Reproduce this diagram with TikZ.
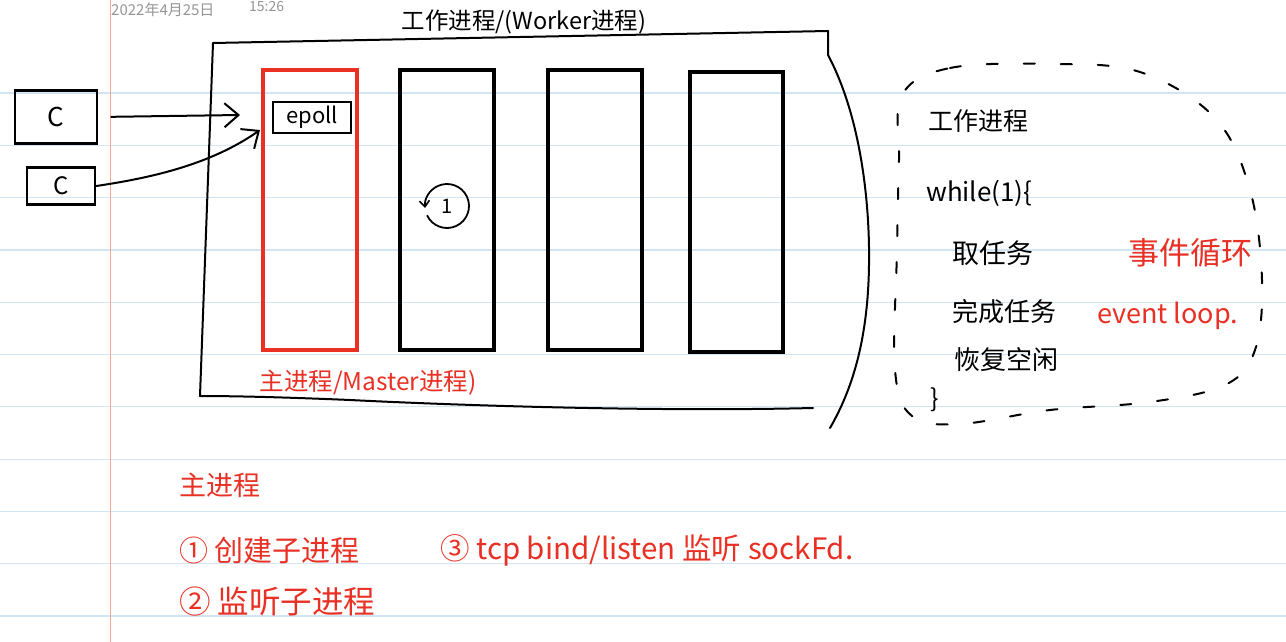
\documentclass[tikz,border=0pt]{standalone}
\usepackage{fontspec}
\setmainfont{Noto Sans CJK SC}
\usetikzlibrary{arrows.meta}
\definecolor{inkred}{RGB}{232,48,36}
\definecolor{ruleblue}{RGB}{210,229,245}
\definecolor{marginred}{RGB}{245,165,150}
\definecolor{dategray}{RGB}{150,150,150}
\newcommand\hsz[1]{\fontsize{#1pt}{#1pt}\selectfont}
\begin{document}
\begin{tikzpicture}[x=1pt,y=-1pt,
  txt/.style={inner sep=0pt, anchor=center},
  blacktxt/.style={txt, text=black},
  redtxt/.style={txt, text=inkred},
  procbox/.style={draw=black, line width=4pt, inner sep=0pt, minimum width=94pt, minimum height=280pt},
  masterbox/.style={procbox, draw=inkred},
  cbox/.style={draw=black, line width=2.6pt, inner sep=0pt},
  frame/.style={draw=black, line width=2pt, line join=round, line cap=round},
  link/.style={draw=black, line width=2pt, line cap=round, -{Straight Barb[length=14pt,width=24pt,line width=2pt]}},
  dashblob/.style={draw=black, line width=2pt, dash pattern=on 11pt off 26pt, line cap=round}
]
\fill[white] (0,0) rectangle (1286,642);
\useasboundingbox (0,0) rectangle (1286,642);
% notebook ruling
\foreach \k in {0,...,10} \draw[ruleblue, line width=1.2pt] (0,{93+52.3*\k}) -- (1286,{93+52.3*\k});
\draw[marginred, line width=1pt] (110,0) -- (110,642);

% date / time
\node[txt, text=dategray, anchor=west] (date) at (111,10) {\hsz{15}2022年4月25日};
\node[txt, text=dategray, anchor=west] (time) at (249,7) {\hsz{14}15:26};

% outer worker frame
\path[frame] (813,408) .. controls (650,412) and (450,405) .. (350,400)
  .. controls (280,397) and (230,396) .. (200,396)
  -- (213,43) -- (828,31) -- (828,55)
  .. controls (860,115) and (870,200) .. (869,265)
  .. controls (868,340) and (852,390) .. (830,428);
\node[blacktxt] (workerlbl) at (524,22) {\hsz{23.5}工作进程/(Worker进程)};

% process boxes
\node[masterbox] (master) at (310,210) {};
\node[procbox] (w1) at (446.5,210) {};
\node[procbox] (w2) at (594.5,210) {};
\node[procbox, minimum width=93pt] (w3) at (736.5,212) {};
\node[redtxt] (masterlbl) at (368,383) {\hsz{24.5}主进程/Master进程)};

% epoll
\node[draw=black, line width=2pt, minimum width=78pt, minimum height=31pt, inner sep=0pt] (epoll) at (312,117.5) {\hsz{22}epoll};

% loop mark in worker
\node[blacktxt] (loop) at (447,206) {\hsz{20}1};
\draw[line width=1.8pt, -{Straight Barb[length=6pt,width=10pt,line width=1.6pt]}]
  (loop.center) ++(155:22) arc[start angle=155, end angle=-185, radius=22];

% clients
\node[cbox, minimum width=82pt, minimum height=53pt] (c1) at (56,117) {\hsz{26}C};
\node[cbox, minimum width=68pt, minimum height=37pt] (c2) at (61,186) {\hsz{24}C};
\coordinate (a1) at (240,115);
\coordinate (a2) at (260,130);
\draw[link, shorten <=13pt] (c1.east) -- (a1);
\draw[link] (c2.east) .. controls (150,178) and (210,165) .. (a2);

% event loop panel
\draw[dashblob] plot[smooth cycle, tension=0.6] coordinates {
  (902,95) (950,68) (1050,64) (1140,72) (1215,118) (1250,190) (1262,280)
  (1255,350) (1225,385) (1150,402) (1050,410) (960,424) (912,416) (895,370) (897,250) (899,160)};
\node[blacktxt, anchor=west] (wp) at (928,121) {\hsz{25}工作进程};
\node[blacktxt, anchor=west] (wl) at (926,193) {\hsz{26}while(1)\{};
\node[blacktxt, anchor=west] (t1) at (952,253) {\hsz{27}取任务};
\node[blacktxt, anchor=west] (t2) at (952,312) {\hsz{26}完成任务};
\node[blacktxt, anchor=west] (t3) at (954,360) {\hsz{26}恢复空闲};
\node[blacktxt, anchor=west] (rb) at (930,400) {\hsz{25}\}};
\node[redtxt, anchor=west] (evcn) at (1128,253) {\hsz{31}事件循环};
\node[redtxt, anchor=west] (even) at (1097,316) {\hsz{27}event loop.};

% master notes
\node[redtxt, anchor=west] (mn) at (179,485) {\hsz{27}主进程};
\node[redtxt, anchor=west] (n1) at (179,550) {\hsz{29}① 创建子进程};
\node[redtxt, anchor=west] (n2) at (179,602) {\hsz{31.5}② 监听子进程};
\node[redtxt, anchor=west] (n3) at (440,550) {\hsz{29.5}③ tcp bind/listen 监听 sockFd.};
\end{tikzpicture}
\end{document}
